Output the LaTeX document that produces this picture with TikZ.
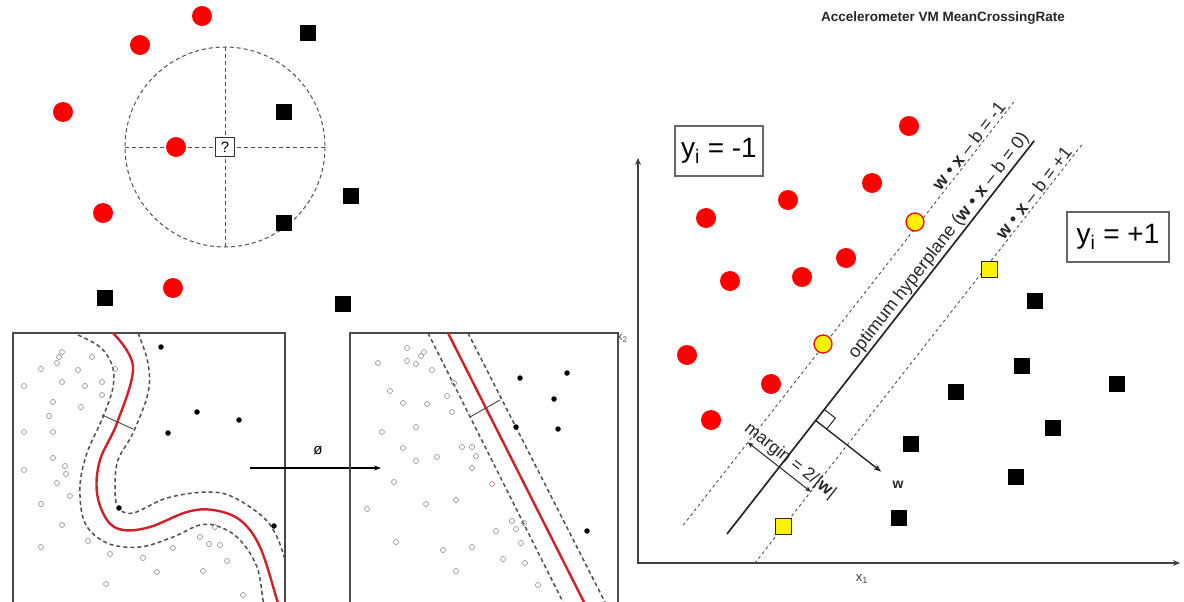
\documentclass[tikz,border=0pt]{standalone}
\usepackage{fontspec}
\setmainfont{Liberation Sans}
\usetikzlibrary{arrows.meta}
\definecolor{pan}{HTML}{4A4A4A}
\definecolor{dash}{HTML}{4F4F4F}
\definecolor{cred}{HTML}{D0202A}
\definecolor{ocirc}{HTML}{8A8A8A}
\begin{document}
\begin{tikzpicture}[x=1pt,y=-1pt,
  redpt/.style={circle,fill=red,minimum size=20pt,inner sep=0pt},
  blksq/.style={rectangle,fill=black,minimum size=16pt,inner sep=0pt},
  yelpt/.style={circle,fill=yellow,draw=red,line width=1.3pt,minimum size=18pt,inner sep=0pt},
  yelsq/.style={rectangle,fill=yellow,draw=black!85,line width=1pt,minimum size=16pt,inner sep=0pt},
  odot/.style={circle,draw=ocirc,line width=0.6pt,minimum size=5pt,inner sep=0pt},
  bdot/.style={circle,fill=black,minimum size=5.5pt,inner sep=0pt},
  panel/.style={draw=pan,line width=1.5pt},
  pdash/.style={draw=dash,line width=1.5pt,dash pattern=on 4pt off 3pt},
  svmdash/.style={draw=dash,line width=0.9pt,dash pattern=on 3pt off 3pt},
  knndash/.style={draw=dash,line width=1pt,dash pattern=on 4pt off 3pt},
  lab/.style={text=black!85,font=\fontsize{18}{20}\selectfont,inner sep=1.5pt},
  ybox/.style={draw=black!60,line width=1.2pt,font=\fontsize{28}{32}\selectfont,minimum height=50pt,inner sep=0pt}
]
\useasboundingbox (0,0) rectangle (1184,602);
\clip (0,0) rectangle (1184,602);

%% ---------- top text ----------
\node[font=\bfseries\fontsize{13.5}{15}\selectfont,text=black!85] (acc) at (943,18) {Accelerometer VM MeanCrossingRate};

%% ---------- k-NN (top left) ----------
\coordinate (kc) at (225,147);
\draw[knndash] (kc) circle[radius=100];
\coordinate (kl) at (125,147); \coordinate (kr) at (325,147);
\coordinate (kt) at (225,47);  \coordinate (kb) at (225,247);
\draw[knndash] (kl) -- (kr);
\draw[knndash] (kt) -- (kb);
\foreach \x/\y [count=\i] in {202/16,140/45,63/112,176/147,103/213,173/288}
  \node[redpt] (kr\i) at (\x,\y) {};
\foreach \x/\y [count=\i] in {308/33,284/112,351/196,284/223,105/298,343/304}
  \node[blksq] (ks\i) at (\x,\y) {};
\node[draw=black!80,fill=white,line width=1.4pt,minimum size=19pt,inner sep=0pt,font=\fontsize{15}{16}\selectfont] (q) at (kc) {?};

%% ---------- panel 1 ----------
\draw[panel] (13,612) -- (13,333) -- (285,333) -- (285,612);
\draw[pdash] plot[smooth,tension=0.6] coordinates {(78,335) (100,347) (112,365) (113,387) (103,417) (87,453) (80,487) (85,523) (107,543) (140,547) (173,537) (200,525) (220,527) (240,540) (257,567) (263,600) (265,612)};
\draw[pdash] plot[smooth,tension=0.6] coordinates {(138,333) (148,363) (148,393) (133,433) (118,460) (115,487) (118,507) (133,513) (167,498) (207,492) (233,497) (263,517) (277,537) (285,560)};
\draw[cred,line width=2.4pt] plot[smooth,tension=0.6] coordinates {(113,333) (133,367) (117,423) (100,460) (97,493) (107,520) (123,530) (150,527) (187,512) (213,510) (240,520) (260,547) (277,600) (280,612)};
\draw[draw=dash,line width=1pt] (102,415) -- (133,429);
\foreach \x/\y [count=\i] in {62/352,59/357,57/363,92/357,41/369,78/370,115/369,24/386,62/382,85/386,102/382,102/395,53/402,81/407,49/416,24/432,53/432,53/458,65/466,66/474,24/470,57/483,70/496,41/504,62/525,88/541,41/547,110/554,143/558,173/548,157/572,200/537,209/544,220/545,215/527,227/561,203/571,106/584,243/595}
  \node[odot] (pa\i) at (\x,\y) {};
\foreach \x/\y [count=\i] in {161/347,197/412,239/420,168/433,119/508,274/526}
  \node[bdot] (pb\i) at (\x,\y) {};

%% ---------- mapping arrow ----------
\coordinate (ma) at (250,468);
\coordinate (mb) at (381,468);
\draw[line width=1.1pt,-{Stealth[length=7pt,width=5pt]}] (ma) -- (mb);
\node[font=\fontsize{15}{16}\selectfont] (phi) at (318,451) {ø};

%% ---------- panel 2 ----------
\draw[panel] (350,612) -- (350,333) -- (618,333) -- (618,612);
\node[text=black!70,font=\fontsize{12}{13}\selectfont,inner sep=0pt] (x2) at (622,338) {x\textsubscript{2}};
\draw[pdash] (428,333) -- (568,612);
\draw[pdash] (468,333) -- (610,612);
\draw[cred,line width=2.4pt] (448,333) -- (589,612);
\draw[draw=dash,line width=1pt] (470,417) -- (500,400);
\foreach \x/\y [count=\i] in {407/348,424/352,421/356,416/364,407/361,378/363,432/370,454/383,390/391,447/396,403/403,427/404,452/412,382/432,416/427,403/448,462/447,472/447,476/456,437/457,416/461,472/468,394/482,367/509,426/504,456/500,512/521,516/529,524/523,496/531,396/542,443/550,472/547,521/543,503/559,525/563,456/571,538/585}
  \node[odot] (pc\i) at (\x,\y) {};
\node[odot,draw=cred!70] (pred) at (492,484) {};
\foreach \x/\y [count=\i] in {520/378,567/373,554/399,516/427,558/429,587/531}
  \node[bdot] (pd\i) at (\x,\y) {};

%% ---------- SVM (right) ----------
\coordinate (O) at (638,563);
\coordinate (Yt) at (638,158);
\coordinate (Xt) at (1180,563);
\draw[draw=black!75,line width=2pt,{Stealth[length=7pt,width=6pt]}-{Stealth[length=7pt,width=6pt]}] (Yt) -- (O) -- (Xt);
\node[text=black!75,font=\fontsize{13}{14}\selectfont] (x1) at (862,579) {x\textsubscript{1}};

% hyperplanes
\coordinate (h0a) at (727,534);  \coordinate (h0b) at (1034.2,140.8);
\coordinate (hma) at (683.2,525.2); \coordinate (hmb) at (1015.7,99.6);
\coordinate (hpa) at (754.8,563.3); \coordinate (hpb) at (1081.7,144.9);
\draw[svmdash] (hma) -- (hmb);
\draw[svmdash] (hpa) -- (hpb);
\draw[draw=black!85,line width=1.7pt] (h0a) -- (h0b);

\node[lab,rotate=52,anchor=south] (lm) at (975,151) {\textbf{w} • \textbf{x} – b = -1};
\node[lab,rotate=52,anchor=south] (l0) at (947,252) {optimum hyperplane (\textbf{w} • \textbf{x} – b = 0)};
\node[lab,rotate=52,anchor=south] (lp) at (1040,198) {\textbf{w} • \textbf{x} – b = +1};

% right angle and w vector
\coordinate (F) at (815.7,420.5);
\coordinate (F1) at (824.3,409.5);
\coordinate (F2) at (835.4,418.1);
\coordinate (F3) at (826.7,429.1);
\draw[draw=black!85,line width=1pt] (F1) -- (F2) -- (F3);
\coordinate (W) at (881.1,471.6);
\draw[draw=black!85,line width=1.4pt,-{Stealth[length=8pt,width=6pt]}] (F) -- (W);
\node[font=\bfseries\fontsize{14}{15}\selectfont,text=black!85] (wl) at (898,485) {w};

% margin
\coordinate (M1) at (747.8,442.4);
\coordinate (M2) at (810.8,491.7);
\draw[draw=black!85,line width=1pt,{Stealth[length=6pt,width=5pt]}-{Stealth[length=6pt,width=5pt]}] (M1) -- (M2);
\node[lab,rotate=-38,anchor=south,font=\fontsize{17.5}{19}\selectfont] (ml) at (784,469) {margin = 2/|\textbf{w}|};

% points
\foreach \x/\y [count=\i] in {909/126,872/183,788/200,706/218,846/258,802/277,730/281,687/355,771/384,711/420}
  \node[redpt] (sr\i) at (\x,\y) {};
\node[yelpt] (sy1) at (915,222) {};
\node[yelpt] (sy2) at (823,344) {};
\node[yelsq] (sq1) at (989,269) {};
\node[yelsq] (sq2) at (783,526) {};
\foreach \x/\y [count=\i] in {1035/301,1022/366,956/392,1117/384,1053/428,911/444,1016/477,899/518}
  \node[blksq] (ss\i) at (\x,\y) {};

% class boxes
\node[ybox,minimum width=88pt] (ym) at (719,151) {y\textsubscript{i} = -1};
\node[ybox,minimum width=102pt] (yp) at (1118,237) {y\textsubscript{i} = +1};
\end{tikzpicture}
\end{document}
